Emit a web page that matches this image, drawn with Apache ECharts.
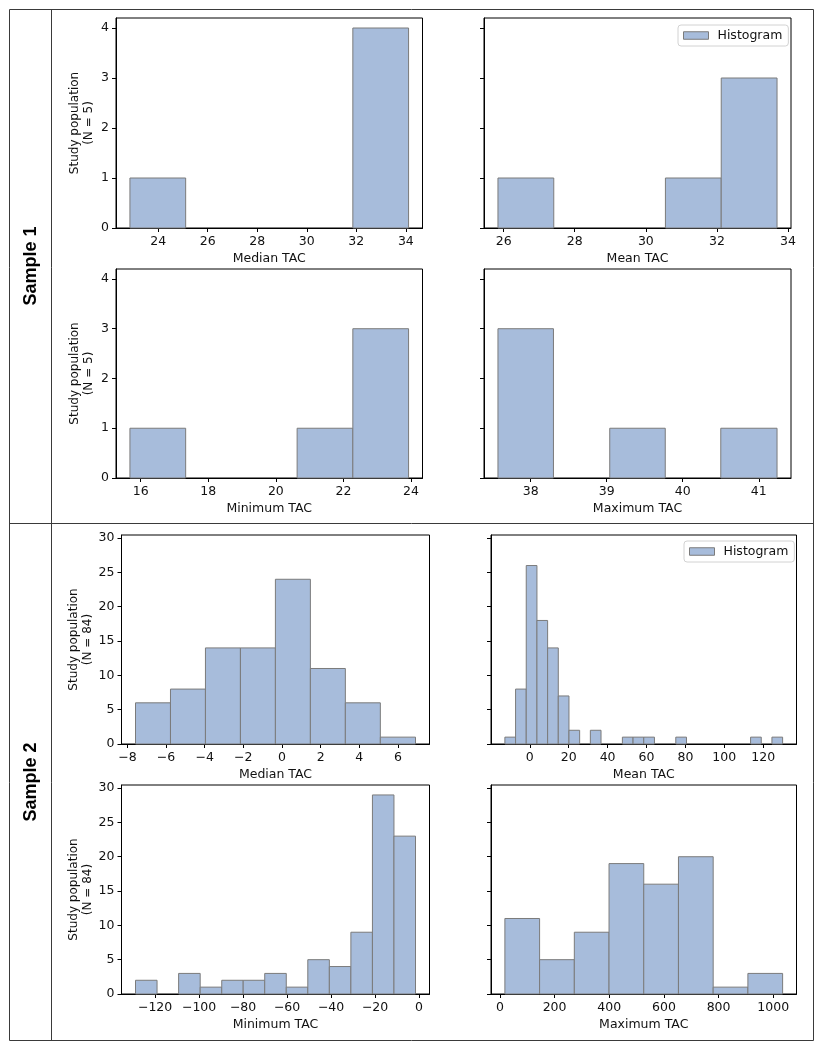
<!DOCTYPE html>
<html>
<head>
<meta charset="utf-8">
<script src="https://cdn.jsdelivr.net/npm/echarts@6/dist/echarts.min.js"></script>
<style>
html,body{margin:0;padding:0;background:#fff;}
#chart{width:822px;height:1050px;}
</style>
</head>
<body>
<div id="chart"></div>
<script>
// ---------------- DATA ----------------
// Sample 1 (N = 5)
const s1MedianEdges = [22.86, 25.11, 27.36, 29.61, 31.86, 34.11];
const s1MedianCounts = [1, 0, 0, 0, 4];
const s1MeanEdges = [25.84, 27.41, 28.98, 30.55, 32.12, 33.69];
const s1MeanCounts = [1, 0, 0, 1, 3];
const s1MinEdges = [15.68, 17.33, 18.98, 20.63, 22.28, 23.93];
const s1MinCounts = [1, 0, 0, 1, 3];
const s1MaxEdges = [37.57, 38.30, 39.04, 39.77, 40.50, 41.24];
const s1MaxCounts = [3, 0, 1, 0, 1];

// Sample 2 (N = 84)
const s2MedianEdges = [-7.58, -5.77, -3.96, -2.15, -0.34, 1.47, 3.28, 5.09, 6.91];
const s2MedianCounts = [6, 8, 14, 14, 24, 11, 6, 1];
const s2MeanEdges = [-12.80, -7.31, -1.82, 3.68, 9.17, 14.66, 20.15, 25.64, 31.14, 36.63,
  42.12, 47.61, 53.10, 58.60, 64.09, 69.58, 75.07, 80.56, 86.06, 91.55, 97.04, 102.53,
  108.02, 113.52, 119.01, 124.50, 129.99];
const s2MeanCounts = [1, 8, 26, 18, 14, 7, 2, 0, 2, 0, 0, 1, 1, 1, 0, 0, 1, 0, 0, 0, 0, 0, 0, 1, 0, 1];
const s2MinEdges = [-128.9, -119.1, -109.3, -99.5, -89.7, -79.95, -70.16, -60.37, -50.58,
  -40.79, -31.0, -21.21, -11.42, -1.63];
const s2MinCounts = [2, 0, 3, 1, 2, 2, 3, 1, 5, 4, 9, 29, 23];
const s2MaxEdges = [18.2, 145.2, 272.2, 399.2, 526.2, 653.2, 780.2, 907.2, 1034.2];
const s2MaxCounts = [11, 5, 9, 19, 16, 20, 1, 3];

// Tick labels
const s1MedianTicks = [24, 26, 28, 30, 32, 34];
const s1MeanTicks = [26, 28, 30, 32, 34];
const s1MinTicks = [16, 18, 20, 22, 24];
const s1MaxTicks = [38, 39, 40, 41];
const s2MedianTicks = [-8, -6, -4, -2, 0, 2, 4, 6];
const s2MeanTicks = [0, 20, 40, 60, 80, 100, 120];
const s2MinTicks = [-120, -100, -80, -60, -40, -20, 0];
const s2MaxTicks = [0, 200, 400, 600, 800, 1000];
const s1YTicks = [0, 1, 2, 3, 4];
const s2YTicks = [0, 5, 10, 15, 20, 25, 30];
const s1YMax = 4.2;
const s2YMax = 30.45;

const xLabelNames = ['Median TAC', 'Mean TAC', 'Minimum TAC', 'Maximum TAC'];
const yName1 = 'Study population\n(N = 5)';
const yName2 = 'Study population\n(N = 84)';
const sampleLabels = ['Sample 1', 'Sample 2'];
const legendName = 'Histogram';

// ---------------- LAYOUT ----------------
const FONT = 'DejaVu Sans';
const FS = 12.5;
const FILL = '#a7bcdb';
const EDGE = '#7b7b7b';

const grids = [
  {left: 116, top: 18, width: 306.5, height: 210},
  {left: 484, top: 18, width: 307, height: 210},
  {left: 116, top: 269, width: 306.5, height: 209},
  {left: 484, top: 269, width: 307, height: 209},
  {left: 121.5, top: 535, width: 308, height: 209},
  {left: 491, top: 535, width: 305.5, height: 209},
  {left: 121.5, top: 785, width: 308, height: 209},
  {left: 491, top: 785, width: 305.5, height: 209}
];

const panels = [
  {edges: s1MedianEdges, counts: s1MedianCounts, ticks: s1MedianTicks, xname: xLabelNames[0], ymax: s1YMax, yticks: s1YTicks, yname: yName1, left: true, legend: false},
  {edges: s1MeanEdges, counts: s1MeanCounts, ticks: s1MeanTicks, xname: xLabelNames[1], ymax: s1YMax, yticks: s1YTicks, yname: '', left: false, legend: true},
  {edges: s1MinEdges, counts: s1MinCounts, ticks: s1MinTicks, xname: xLabelNames[2], ymax: s1YMax, yticks: s1YTicks, yname: yName1, left: true, legend: false},
  {edges: s1MaxEdges, counts: s1MaxCounts, ticks: s1MaxTicks, xname: xLabelNames[3], ymax: s1YMax, yticks: s1YTicks, yname: '', left: false, legend: false},
  {edges: s2MedianEdges, counts: s2MedianCounts, ticks: s2MedianTicks, xname: xLabelNames[0], ymax: s2YMax, yticks: s2YTicks, yname: yName2, left: true, legend: false},
  {edges: s2MeanEdges, counts: s2MeanCounts, ticks: s2MeanTicks, xname: xLabelNames[1], ymax: s2YMax, yticks: s2YTicks, yname: '', left: false, legend: true},
  {edges: s2MinEdges, counts: s2MinCounts, ticks: s2MinTicks, xname: xLabelNames[2], ymax: s2YMax, yticks: s2YTicks, yname: yName2, left: true, legend: false},
  {edges: s2MaxEdges, counts: s2MaxCounts, ticks: s2MaxTicks, xname: xLabelNames[3], ymax: s2YMax, yticks: s2YTicks, yname: '', left: false, legend: false}
];

const fmt = v => String(v).replace('-', '\u2212');

function renderItem(params, api) {
  const c = api.value(2);
  if (!(c > 0)) return null;
  const p0 = api.coord([api.value(0), c]);
  const p1 = api.coord([api.value(1), 0]);
  return {
    type: 'rect',
    shape: {x: p0[0], y: p0[1], width: p1[0] - p0[0], height: p1[1] - p0[1]},
    style: {fill: FILL, stroke: EDGE, lineWidth: 1}
  };
}

const xAxes = [], yAxes = [], series = [];
panels.forEach((p, i) => {
  const lo = p.edges[0], hi = p.edges[p.edges.length - 1];
  const pad = (hi - lo) * 0.05;
  xAxes.push({
    type: 'value', gridIndex: i, min: lo - pad, max: hi + pad, position: 'bottom',
    name: p.xname, nameLocation: 'middle', nameGap: 24,
    nameTextStyle: {fontFamily: FONT, fontSize: FS, color: '#111'},
    axisLine: {show: true, onZero: false, lineStyle: {color: '#000', width: 1}},
    axisTick: {show: true, length: 4, lineStyle: {color: '#000'}, customValues: p.ticks},
    axisLabel: {show: true, margin: 7, fontFamily: FONT, fontSize: FS, color: '#111',
      customValues: p.ticks, formatter: fmt},
    splitLine: {show: false}
  });
  yAxes.push({
    type: 'value', gridIndex: i, min: 0, max: p.ymax, position: 'left',
    name: p.yname, nameLocation: 'middle', nameGap: 20, nameRotate: 90,
    nameTextStyle: {fontFamily: FONT, fontSize: 12, color: '#111', lineHeight: 14, align: 'center'},
    axisLine: {show: true, onZero: false, lineStyle: {color: '#000', width: 1}},
    axisTick: {show: true, length: 4, lineStyle: {color: '#000'}, customValues: p.yticks},
    axisLabel: {show: p.left, margin: 7, fontFamily: FONT, fontSize: FS, color: '#111',
      customValues: p.yticks},
    splitLine: {show: false}
  });
  const data = p.counts.map((c, k) => [p.edges[k], p.edges[k + 1], c]);
  series.push({
    type: 'custom', name: p.legend ? legendName : 'hist' + i,
    coordinateSystem: 'cartesian2d', xAxisIndex: i, yAxisIndex: i,
    renderItem: renderItem, encode: {x: [0, 1], y: 2}, data: data,
    itemStyle: {color: FILL, borderColor: EDGE, borderWidth: 1},
    silent: true
  });
});

function legendAt(left, top) {
  return {
    show: true, left: left, top: top, orient: 'horizontal',
    data: [{name: legendName, icon: 'rect', itemStyle: {color: FILL, borderColor: EDGE, borderWidth: 1}}],
    itemWidth: 25, itemHeight: 7.5,
    padding: [4, 6, 4, 5],
    backgroundColor: 'rgba(255,255,255,0.85)', borderColor: '#d2d2d2', borderWidth: 1, borderRadius: 3,
    textStyle: {fontFamily: FONT, fontSize: FS, color: '#111', padding: [0, 0, 0, 4], lineHeight: 13},
    selectedMode: false
  };
}

const FR = '#3a3a3a';
const graphics = [
  {type: 'rect', shape: {x: 9.5, y: 9.5, width: 804, height: 1031}, style: {fill: 'none', stroke: FR, lineWidth: 1}, silent: true},
  {type: 'line', shape: {x1: 51.5, y1: 9.5, x2: 51.5, y2: 1040.5}, style: {stroke: FR, lineWidth: 1}, silent: true},
  {type: 'line', shape: {x1: 9.5, y1: 523.5, x2: 813.5, y2: 523.5}, style: {stroke: FR, lineWidth: 1}, silent: true},
  {type: 'text', x: 31, y: 266, rotation: Math.PI / 2,
    style: {text: sampleLabels[0], fontFamily: 'Liberation Sans', fontWeight: 'bold', fontSize: 18, fill: '#000', align: 'center', verticalAlign: 'middle'}, silent: true},
  {type: 'text', x: 31, y: 782, rotation: Math.PI / 2,
    style: {text: sampleLabels[1], fontFamily: 'Liberation Sans', fontWeight: 'bold', fontSize: 18, fill: '#000', align: 'center', verticalAlign: 'middle'}, silent: true}
];

const chart = echarts.init(document.getElementById('chart'), null, {renderer: 'canvas', width: 822, height: 1050});
chart.setOption({
  animation: false,
  backgroundColor: '#fff',
  grid: grids.map(g => Object.assign({show: true, borderColor: '#000', borderWidth: 1, backgroundColor: 'transparent', containLabel: false}, g)),
  xAxis: xAxes,
  yAxis: yAxes,
  legend: [legendAt(678, 25), legendAt(684, 541)],
  graphic: graphics,
  series: series
});
</script>
</body>
</html>
